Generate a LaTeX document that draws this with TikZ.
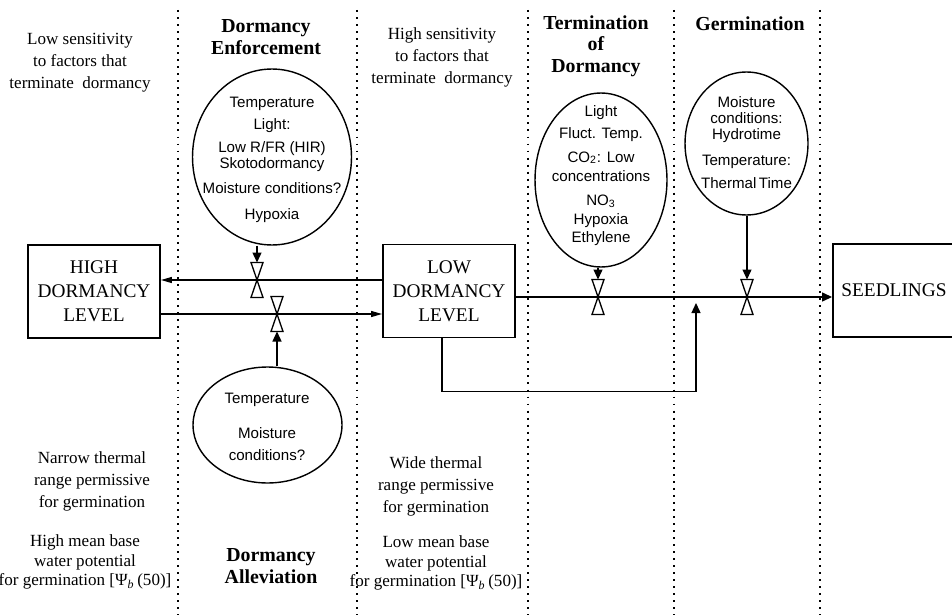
\documentclass[tikz,border=0pt]{standalone}
\usepackage{fontspec}
\setmainfont{Liberation Serif}
\setsansfont{Liberation Sans}
\usetikzlibrary{shapes.geometric,arrows.meta}
\tikzset{
  lvl/.style={draw, line width=1.1pt, align=center, inner sep=0pt,
              minimum width=2.64cm, minimum height=1.86cm,
              font=\fontsize{11}{13.6}\selectfont},
  factor/.style={draw, ellipse, line width=0.8pt, inner sep=0pt},
  ftext/.style={align=center, font=\sffamily\fontsize{8.6}{#1}\selectfont},
  head/.style={align=center, font=\bfseries\fontsize{11.3}{12.2}\selectfont},
  note/.style={align=center, font=\fontsize{9.7}{12.5}\selectfont},
  zone/.style={line width=1.1pt, dash pattern=on 1.1pt off 2.9pt},
  arr/.style={line width=0.75pt, -{Triangle[length=2mm,width=1.8mm]}},
  slim/.style={line width=0.75pt, -{Triangle[length=2.2mm,width=1.2mm]}},
  valve/.pic={
    \coordinate (-c) at (0,0);
    \coordinate (-top) at (0,-17.5);
    \coordinate (-bot) at (0,17.5);
    \draw[line width=0.75pt, fill=white] (-6,-17.5) -- (6,-17.5) -- (-6,17.5) -- (6,17.5) -- cycle;
  }
}
\begin{document}
\begin{tikzpicture}[x=0.02cm, y=-0.02cm]
  \useasboundingbox (0,0) rectangle (952,615);
  \foreach \x in {178,357,528,674,820}
    \draw[zone] (\x,10) -- (\x,615);

  \node (high) [lvl] at (94,291.5) {HIGH\\DORMANCY\\LEVEL};
  \node (low) [lvl] at (449,291) {LOW\\DORMANCY\\LEVEL};
  \node (seed) [lvl, minimum width=2.44cm] at (894,290.5) {SEEDLINGS};

  \node (enf) [factor, minimum width=3.18cm, minimum height=3.52cm] at (272,157) {};
  \node (allev) [factor, minimum width=2.98cm, minimum height=2.32cm] at (267.5,425) {};
  \node (term) [factor, minimum width=2.64cm, minimum height=3.48cm] at (601,180) {};
  \node (germ) [factor, minimum width=2.46cm, minimum height=2.86cm] at (746.5,143.5) {};

  \node (enft) [ftext=9.1pt] at (272,160)
    {Temperature\\[3.4pt] Light:\\[3.9pt] Low R/FR (HIR)\\ Skotodormancy\\[5.1pt]
     Moisture conditions?\\[5.6pt] Hypoxia};
  \node (allevt) [ftext=13pt] at (267,427) {Temperature\\[6.8pt] Moisture\\ conditions?};
  \node (termt) [ftext=10.2pt] at (601,175.5)
    {Light\\[2.6pt] Fluct. Temp.\\[3.1pt] CO\textsubscript{2}: Low\\[1.1pt] concentrations\\[3.4pt]
     NO\textsubscript{3}\\[0.6pt] Hypoxia\\ Ethylene};
  \node (germt) [ftext=9.1pt] at (746.5,142.5)
    {Moisture\\ conditions:\\ Hydrotime\\[5.6pt] Temperature:\\[3.9pt] Thermal\,Time};

  \node (enfhead) [head] at (266,37) {Dormancy\\Enforcement};
  \node (termhead) [head] at (596,46) {Termination\\of\\Dormancy};
  \node (germhead) [head] at (750,24) {Germination};
  \node (allevhead) [head] at (271,566) {Dormancy\\Alleviation};

  \node (lowsens) [note] at (80,63) {Low sensitivity\\to factors that\\terminate\ \ dormancy};
  \node (highsens) [note] at (442,57) {High sensitivity\\to factors that\\terminate\ \ dormancy};
  \node (narrow) [note] at (92,481) {Narrow thermal\\range permissive\\for germination};
  \node (highpot) [note, font=\fontsize{9.7}{11}\selectfont] at (85,562)
    {High mean base\\water potential\\for germination [Ψ\textsubscript{\textit{b}}\,(50)]};
  \node (wide) [note] at (436,486) {Wide thermal\\range permissive\\for germination};
  \node (lowpot) [note, font=\fontsize{9.7}{11}\selectfont] at (436,563)
    {Low mean base\\water potential\\for germination [Ψ\textsubscript{\textit{b}}\,(50)]};

  \pic (v1) at (257,280) {valve};
  \pic (v2) at (277,314) {valve};
  \pic (tv) at (598,297) {valve};
  \pic (gv) at (747,297) {valve};
  \coordinate (jn) at (696,303);

  \draw[slim] (low.west |- v1-c) -- (high.east |- v1-c);
  \draw[slim] (high.east |- v2-c) -- (low.west |- v2-c);
  \draw[arr] (low.east |- tv-c) -- (seed.west |- tv-c);
  \draw[arr] ([xshift=-4pt]low.south) -- ++(0,53) -| (jn);
  \draw[arr] (enf.south -| v1-c) -- (v1-top);
  \draw[arr] (allev.north -| v2-c) -- (v2-bot);
  \draw[arr] (term.south -| tv-c) -- (tv-top);
  \draw[arr] (germ.south -| gv-c) -- (gv-top);
\end{tikzpicture}
\end{document}
